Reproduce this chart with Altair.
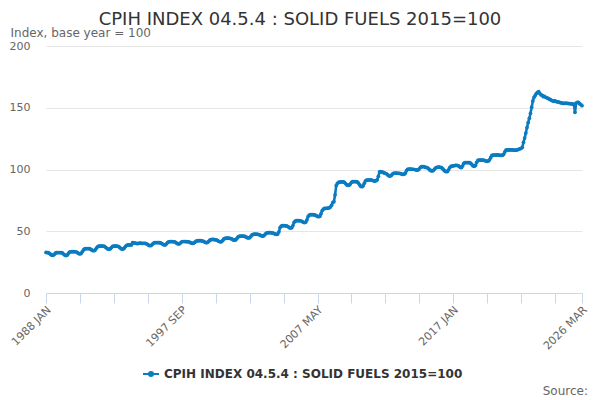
import altair as alt
import pandas as pd

TITLE = "CPIH INDEX 04.5.4 : SOLID FUELS 2015=100"
Y_CAPTION = "Index, base year = 100"
SOURCE = "Source:"
BLUE = "#0b7bc1"

MONTHS = ["JAN", "FEB", "MAR", "APR", "MAY", "JUN",
          "JUL", "AUG", "SEP", "OCT", "NOV", "DEC"]
FIRST_YEAR = 1988

# monthly index values, one list per year
v1988 = [32.8, 32.7, 32.6, 32.0, 31.2, 30.6, 30.5, 31.2, 32.2, 32.6, 32.7, 32.7]
v1989 = [32.7, 32.6, 32.4, 31.5, 30.7, 30.3, 30.6, 31.8, 33.0, 33.4, 33.5, 33.5]
v1990 = [33.5, 33.4, 33.2, 32.6, 31.9, 31.6, 32.0, 33.4, 34.9, 35.7, 35.9, 36.0]
v1991 = [36.0, 35.9, 35.6, 34.9, 34.4, 34.3, 34.8, 36.2, 37.4, 37.9, 38.0, 38.0]
v1992 = [38.0, 37.9, 37.7, 37.0, 36.2, 35.6, 35.4, 35.9, 37.0, 37.8, 38.0, 38.0]
v1993 = [38.0, 37.9, 37.6, 36.9, 36.0, 35.6, 35.7, 36.5, 37.8, 38.6, 38.9, 38.9]
v1994 = [38.9, 38.9, 40.7, 40.6, 40.4, 40.2, 40.0, 40.1, 40.3, 40.3, 40.2, 40.2]
v1995 = [40.2, 40.1, 39.8, 39.2, 38.5, 38.3, 38.6, 39.5, 40.4, 40.7, 40.8, 40.8]
v1996 = [40.8, 40.7, 40.5, 40.0, 39.4, 38.9, 39.0, 39.8, 40.9, 41.5, 41.6, 41.6]
v1997 = [41.6, 41.5, 41.3, 40.8, 40.1, 39.7, 39.8, 40.6, 41.4, 41.7, 41.7, 41.6]
v1998 = [41.6, 41.5, 41.4, 41.0, 40.5, 40.2, 40.3, 40.9, 41.8, 42.3, 42.4, 42.4]
v1999 = [42.4, 42.3, 42.1, 41.6, 41.0, 40.7, 40.9, 41.8, 42.8, 43.3, 43.4, 43.4]
v2000 = [43.2, 43.1, 42.9, 42.3, 41.7, 41.4, 41.6, 42.6, 43.8, 44.3, 44.4, 44.4]
v2001 = [44.4, 44.3, 44.1, 43.6, 43.0, 42.8, 43.0, 44.0, 45.3, 45.9, 46.0, 46.0]
v2002 = [46.0, 46.0, 45.8, 45.3, 44.8, 44.6, 44.8, 45.8, 47.0, 47.5, 47.6, 47.6]
v2003 = [47.6, 47.5, 47.3, 46.8, 46.3, 46.1, 46.3, 47.2, 48.3, 48.7, 48.8, 48.8]
v2004 = [48.8, 48.7, 48.5, 48.1, 47.6, 47.4, 47.7, 49.5, 53.0, 54.2, 54.5, 54.5]
v2005 = [54.5, 54.4, 54.2, 53.6, 52.9, 52.6, 52.9, 54.6, 57.2, 58.3, 58.6, 58.6]
v2006 = [58.6, 58.5, 58.3, 57.8, 57.2, 57.0, 57.4, 59.3, 62.0, 63.1, 63.4, 63.4]
v2007 = [63.4, 63.3, 63.1, 62.6, 62.0, 61.8, 62.2, 64.2, 66.8, 68.0, 68.5, 68.6]
v2008 = [68.6, 68.8, 69.0, 69.6, 71.0, 73.2, 73.9, 79.5, 87.0, 88.8, 89.5, 89.8]
v2009 = [89.9, 90.0, 90.0, 89.6, 88.6, 87.6, 87.2, 87.3, 88.2, 89.6, 90.1, 90.2]
v2010 = [90.2, 90.1, 89.9, 89.0, 87.6, 86.4, 86.1, 86.8, 88.9, 90.8, 91.4, 91.5]
v2011 = [91.5, 91.6, 91.5, 91.2, 90.8, 90.6, 90.9, 91.6, 94.5, 98.0, 98.2, 98.0]
v2012 = [97.6, 97.2, 96.9, 96.5, 95.6, 94.9, 94.7, 95.2, 96.3, 96.9, 97.0, 97.0]
v2013 = [97.0, 96.9, 96.9, 96.7, 96.3, 96.0, 96.2, 97.0, 99.0, 100.1, 100.3, 100.3]
v2014 = [100.3, 100.2, 100.2, 100.0, 99.7, 99.5, 99.7, 100.6, 101.8, 102.3, 102.4, 102.3]
v2015 = [101.8, 101.7, 101.4, 100.6, 99.6, 99.0, 98.8, 99.2, 100.4, 101.4, 101.8, 101.9]
v2016 = [101.9, 101.8, 101.5, 100.7, 99.5, 98.6, 98.2, 98.4, 99.8, 101.6, 102.5, 102.8]
v2017 = [103.0, 103.2, 103.4, 103.4, 103.2, 102.6, 101.8, 101.6, 103.0, 105.0, 105.6, 105.6]
v2018 = [105.6, 105.6, 105.5, 105.0, 103.9, 102.9, 102.6, 103.4, 105.8, 107.3, 107.6, 107.6]
v2019 = [107.6, 107.6, 107.5, 107.2, 106.8, 106.6, 106.9, 107.8, 109.8, 111.4, 111.7, 111.7]
v2020 = [111.7, 111.8, 111.8, 111.7, 111.5, 111.4, 111.6, 112.3, 114.2, 115.6, 115.8, 115.8]
v2021 = [115.8, 115.9, 115.9, 115.8, 115.6, 115.6, 115.7, 116.0, 116.4, 116.8, 117.2, 118.0]
v2022 = [122.0, 125.5, 129.5, 134.0, 138.0, 141.5, 145.5, 150.5, 155.5, 158.5, 160.0, 161.5]
v2023 = [162.5, 163.0, 161.5, 160.5, 160.0, 159.0, 159.2, 158.5, 158.0, 157.5, 157.0, 156.5]
v2024 = [156.0, 155.6, 155.2, 155.6, 155.0, 154.8, 154.6, 154.3, 154.0, 153.8, 153.6, 153.5]
v2025 = [153.7, 153.6, 153.5, 153.4, 153.3, 153.2, 153.0, 152.9, 146.3, 153.8, 154.4, 154.4]
v2026 = [153.3, 152.6, 151.7]

years = [v1988, v1989, v1990, v1991, v1992, v1993, v1994, v1995, v1996, v1997,
         v1998, v1999, v2000, v2001, v2002, v2003, v2004, v2005, v2006, v2007,
         v2008, v2009, v2010, v2011, v2012, v2013, v2014, v2015, v2016, v2017,
         v2018, v2019, v2020, v2021, v2022, v2023, v2024, v2025, v2026]
values = [v for year in years for v in year]


def month_label(i):
    return f"{FIRST_YEAR + i // 12} {MONTHS[i % 12]}"


n = len(values)
last = n - 1
df = pd.DataFrame({
    "idx": list(range(n)),
    "value": values,
    "month": [month_label(i) for i in range(n)],
    "series": TITLE,
})

# ticks every 29 months, plus one on the last month; only every 4th is labelled
tick_values = list(range(0, last, 29)) + [last]
labelled = [0, 116, 232, 348, last]
label_expr = ""
for t in labelled:
    label_expr += f"datum.value == {t} ? '{month_label(t)}' : "
label_expr += "''"

FONT = "DejaVu Sans"

line = alt.Chart(df).mark_line(
    strokeWidth=2.6,
    point=alt.OverlayMarkDef(size=14, filled=True, opacity=1),
).encode(
    x=alt.X("idx:Q",
            scale=alt.Scale(domain=[0, last], nice=False, zero=False),
            axis=alt.Axis(values=tick_values, labelExpr=label_expr, title=None,
                          grid=False, labelAngle=-45, labelAlign="right",
                          labelBaseline="middle", labelPadding=5, labelOffset=3,
                          labelFlush=False, labelBound=False, labelOverlap=False,
                          tickSize=10, tickColor="#ccd6eb", domainColor="#ccd6eb",
                          labelColor="#666666", labelFontSize=11, labelFont=FONT)),
    y=alt.Y("value:Q",
            scale=alt.Scale(domain=[0, 200], nice=False),
            axis=alt.Axis(values=[0, 50, 100, 150, 200], title=Y_CAPTION,
                          titleAngle=0, titleAlign="left", titleBaseline="middle",
                          titleX=-36, titleY=-14, titleFont=FONT, titleFontSize=12,
                          titleFontWeight="normal", titleColor="#666666",
                          ticks=False, domain=False, labelPadding=16,
                          labelColor="#666666", labelFontSize=11, labelFont=FONT,
                          gridColor="#e6e6e6")),
    color=alt.Color("series:N",
                    scale=alt.Scale(range=[BLUE]),
                    legend=alt.Legend(
                        title=None, orient="none", legendX=96, legendY=319,
                        padding=0, labelLimit=0,
                        symbolType="M-1,0H1M0.25,0A0.25,0.25 0 1,1 -0.25,0A0.25,0.25 0 1,1 0.25,0Z",
                        symbolSize=256, symbolStrokeWidth=2,
                        symbolStrokeColor=BLUE, symbolFillColor=BLUE,
                        labelFont=FONT, labelFontSize=12, labelFontWeight="bold",
                        labelColor="#333333", labelOffset=4)),
    tooltip=["month:N", "value:Q"],
)

title = alt.Chart(pd.DataFrame({"t": [TITLE]})).mark_text(
    font=FONT, fontSize=18, color="#333333", align="center", baseline="alphabetic",
).encode(text="t:N", x=alt.value(254), y=alt.value(-21))

source = alt.Chart(pd.DataFrame({"t": [SOURCE]})).mark_text(
    font=FONT, fontSize=12, color="#666666", align="right", baseline="middle",
).encode(text="t:N", x=alt.value(542), y=alt.value(345))

chart = alt.layer(line, title, source).properties(
    width=536,
    height=247,
    autosize=alt.AutoSizeParams(type="none"),
    padding={"left": 38, "top": 38, "right": 8, "bottom": 104},
).configure_view(stroke=None)

chart.save("out.html", embed_options={"renderer": "svg", "actions": False})
